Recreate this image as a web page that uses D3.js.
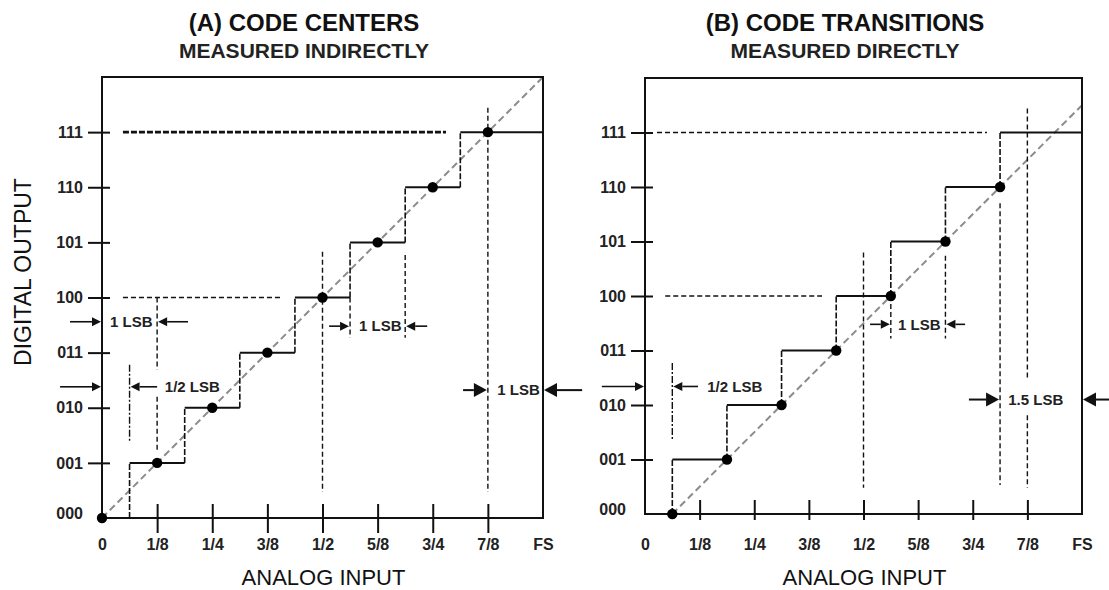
<!DOCTYPE html>
<html>
<head>
<meta charset="utf-8">
<script src="https://cdn.jsdelivr.net/npm/d3@7"></script>
<style>
  body { margin: 0; background: #fff; }
  svg { display: block; }
</style>
</head>
<body>
<svg id="chart" width="1109" height="590"></svg>
<script>
// Axis labels
const codeLabels = ["000", "001", "010", "011", "100", "101", "110", "111"];
const inputLabels = ["0", "1/8", "1/4", "3/8", "1/2", "5/8", "3/4", "7/8", "FS"];

// Code transition points in LSB (same staircase in both plots)
const transitions = [0.5, 1.5, 2.5, 3.5, 4.5, 5.5, 6.5];
// Measured code centres for plot A, in LSB, one per code
const centersA = [0, 1, 2, 3, 4, 5, 6, 7];
// Ideal transfer line end points [input LSB, code]
const idealA = [[0, 0], [8, 8]];
const idealB = [[0.5, 0], [8, 7.5]];

// Dashed reference levels [code, from LSB, to LSB]
const levelsA = [[7, 0.38, 6.24], [4, 0.38, 3.27]];
const levelsB = [[7, 0.22, 6.26], [4, 0.37, 3.24]];

// Dashed vertical guides [input LSB, from code, to code]
const guidesA = [[1, 4, 2.69], [1, 2.2, 1.23], [4, 4.83, 0.47], [4.5, 4, 3.27], [5.5, 4.77, 3.27], [7, 7.44, 0.47]];
const guidesB = [[4, 4.8, 0.48], [4.5, 4, 3.22], [5.5, 4.74, 3.22], [6.5, 5.7, 0.53], [7, 7.44, 2.45], [7, 1.81, 0.48]];
const dashDotA = [[0.5, 2.78, 1.38]];
const dashDotB = [[0.5, 2.77, 1.36]];

// Dimension arrows [code level, tail LSB, head LSB]
const arrowsA = [[3.56, -0.58, 0], [3.56, 1.56, 1], [2.38, -0.76, 0], [2.38, 1, 0.5], [3.48, 4.12, 4.5], [3.48, 5.9, 5.5]];
const bigArrowsA = [[2.32, 6.55, 7], [2.32, 8.71, 8]];
const arrowsB = [[2.34, -0.79, 0], [2.34, 0.97, 0.5], [3.48, 4.12, 4.5], [3.48, 5.86, 5.5]];
const bigArrowsB = [[2.1, 5.93, 6.5], [2.1, 8.6, 8]];

// Callouts [text, LSB, code, anchor]
const calloutsA = [["1 LSB", 0.53, 3.56, "middle"], ["1/2 LSB", 1.14, 2.38, "start"], ["1 LSB", 5.05, 3.48, "middle"], ["1 LSB", 7.17, 2.32, "start"]];
const calloutsB = [["1/2 LSB", 1.14, 2.34, "start"], ["1 LSB", 5.02, 3.48, "middle"], ["1.5 LSB", 6.65, 2.1, "start"]];

const FONT = '"Liberation Sans", Arial, Helvetica, sans-serif';
const INK = "#111";
const svg = d3.select("#chart").attr("font-family", FONT);
svg.append("rect").attr("width", 1109).attr("height", 590).attr("fill", "#fff");

const panels = [
  {
    title: "(A) CODE CENTERS", subtitle: "MEASURED INDIRECTLY", cx: 304,
    xRange: [102, 543], yRange: [518, 77], tickBelow: 15,
    dots: centersA.map((c, i) => [c, i]), ideal: idealA,
    levels: levelsA, guides: guidesA, dashDots: dashDotA,
    arrows: arrowsA, bigArrows: bigArrowsA, callouts: calloutsA,
    heavyTop: true, yTitle: true
  },
  {
    title: "(B) CODE TRANSITIONS", subtitle: "MEASURED DIRECTLY", cx: 845,
    xRange: [645, 1082], yRange: [514, 78], tickBelow: 6,
    dots: transitions.map((t, i) => [t, i]), ideal: idealB,
    levels: levelsB, guides: guidesB, dashDots: dashDotB,
    arrows: arrowsB, bigArrows: bigArrowsB, callouts: calloutsB,
    heavyTop: false, yTitle: false
  }
];

function arrow(g, x, y, d, headLen, headHalf, width) {
  const [level, tail, head] = d;
  const yy = y(level);
  const x0 = x(tail), x1 = x(head) - Math.sign(x(head) - x(tail)) * 1;
  const dir = Math.sign(x1 - x0);
  g.append("line")
    .attr("x1", x0).attr("x2", x1 - dir * headLen)
    .attr("y1", yy).attr("y2", yy)
    .attr("stroke", INK).attr("stroke-width", width);
  g.append("path")
    .attr("d", `M${x1},${yy}L${x1 - dir * headLen},${yy - headHalf}L${x1 - dir * headLen},${yy + headHalf}Z`)
    .attr("fill", INK);
}

function drawPanel(p) {
  const x = d3.scaleLinear().domain([0, 8]).range(p.xRange);
  const y = d3.scaleLinear().domain([0, 8]).range(p.yRange);
  const g = svg.append("g");

  // Titles
  g.append("text").attr("x", p.cx).attr("y", 31).attr("text-anchor", "middle")
    .attr("font-size", 24).attr("font-weight", "bold").attr("fill", INK).text(p.title);
  g.append("text").attr("x", p.cx).attr("y", 58).attr("text-anchor", "middle")
    .attr("font-size", 21).attr("font-weight", "bold").attr("fill", "#222").text(p.subtitle);

  // Ideal transfer line
  g.append("path")
    .attr("d", d3.line()(p.ideal.map(([a, b]) => [x(a), y(b)])))
    .attr("fill", "none").attr("stroke", "#8c8c8c").attr("stroke-width", 2)
    .attr("stroke-dasharray", "7,4");

  // Frame
  g.append("rect")
    .attr("x", x(0)).attr("y", y(8))
    .attr("width", x(8) - x(0)).attr("height", y(0) - y(8))
    .attr("fill", "none").attr("stroke", INK).attr("stroke-width", 2);

  // Y axis
  const yAxis = g.append("g").attr("transform", `translate(${x(0)},0)`)
    .call(d3.axisLeft(y).tickValues(d3.range(0, 8)).tickFormat(i => codeLabels[i])
      .tickSize(14).tickPadding(5));
  yAxis.attr("font-family", FONT).attr("font-size", 16).attr("font-weight", "bold");
  yAxis.select(".domain").remove();
  yAxis.selectAll(".tick line").attr("x1", 8).attr("stroke", INK).attr("stroke-width", 2)
    .filter(d => d === 0).remove();
  yAxis.selectAll(".tick text").attr("fill", "#222")
    .filter(d => d === 0).attr("dy", "0.0em");

  // X axis
  const xAxis = g.append("g").attr("transform", `translate(0,${y(0)})`)
    .call(d3.axisBottom(x).tickValues(d3.range(0, 9)).tickFormat(i => inputLabels[i])
      .tickSize(p.tickBelow));
  xAxis.attr("font-family", FONT).attr("font-size", 16).attr("font-weight", "bold");
  xAxis.select(".domain").remove();
  xAxis.selectAll(".tick line").attr("y1", -14).attr("stroke", INK).attr("stroke-width", 2)
    .filter(d => d === 0 || d === 8).remove();
  xAxis.selectAll(".tick text").attr("fill", "#222").attr("y", 550 - y(0)).attr("dy", 0);

  // Axis titles
  g.append("text").attr("x", (x(0) + x(8)) / 2 + 1).attr("y", 585).attr("text-anchor", "middle")
    .attr("font-size", 22).attr("fill", INK).text("ANALOG INPUT");
  if (p.yTitle) {
    g.append("text").attr("transform", `translate(31,${272}) rotate(-90)`)
      .attr("text-anchor", "middle").attr("font-size", 23).attr("fill", INK).text("DIGITAL OUTPUT");
  }

  // Reference levels
  g.selectAll(".level").data(p.levels).enter().append("line")
    .attr("x1", d => x(d[1])).attr("x2", d => x(d[2]))
    .attr("y1", d => y(d[0])).attr("y2", d => y(d[0]))
    .attr("stroke", INK)
    .attr("stroke-width", (d, i) => (p.heavyTop && i === 0 ? 2.6 : 1.4))
    .attr("stroke-dasharray", (d, i) => (p.heavyTop && i === 0 ? "6,2" : "5,3"));

  // Vertical guides
  g.selectAll(".guide").data(p.guides).enter().append("line")
    .attr("x1", d => x(d[0])).attr("x2", d => x(d[0]))
    .attr("y1", d => y(d[1])).attr("y2", d => y(d[2]))
    .attr("stroke", INK).attr("stroke-width", 1.4).attr("stroke-dasharray", "5,3");
  g.selectAll(".dashdot").data(p.dashDots).enter().append("line")
    .attr("x1", d => x(d[0])).attr("x2", d => x(d[0]))
    .attr("y1", d => y(d[1])).attr("y2", d => y(d[2]))
    .attr("stroke", INK).attr("stroke-width", 1.4).attr("stroke-dasharray", "7,2,2,2");

  // Staircase: solid treads, dashed risers
  g.selectAll(".tread").data(d3.range(1, 8)).enter().append("line")
    .attr("x1", k => x(transitions[k - 1]))
    .attr("x2", k => x(k < 7 ? transitions[k] : 8))
    .attr("y1", k => y(k)).attr("y2", k => y(k))
    .attr("stroke", INK).attr("stroke-width", 2);
  g.selectAll(".riser").data(transitions).enter().append("line")
    .attr("x1", t => x(t)).attr("x2", t => x(t))
    .attr("y1", (t, i) => y(i)).attr("y2", (t, i) => y(i + 1))
    .attr("stroke", INK).attr("stroke-width", 1.6).attr("stroke-dasharray", "6,2");

  // Dimension arrows
  p.arrows.forEach(d => arrow(g, x, y, d, 9, 4.5, 1.6));
  p.bigArrows.forEach(d => arrow(g, x, y, d, 13, 7, 2));

  // Callouts
  g.selectAll(".callout").data(p.callouts).enter().append("text")
    .attr("x", d => x(d[1])).attr("y", d => y(d[2])).attr("dy", "0.35em")
    .attr("text-anchor", d => d[3])
    .attr("font-size", 15).attr("font-weight", "bold").attr("fill", "#222")
    .text(d => d[0]);

  // Dots
  g.selectAll(".dot").data(p.dots).enter().append("circle")
    .attr("cx", d => x(d[0])).attr("cy", d => y(d[1])).attr("r", 5.2)
    .attr("fill", "#000");
}

panels.forEach(drawPanel);
</script>
</body>
</html>
